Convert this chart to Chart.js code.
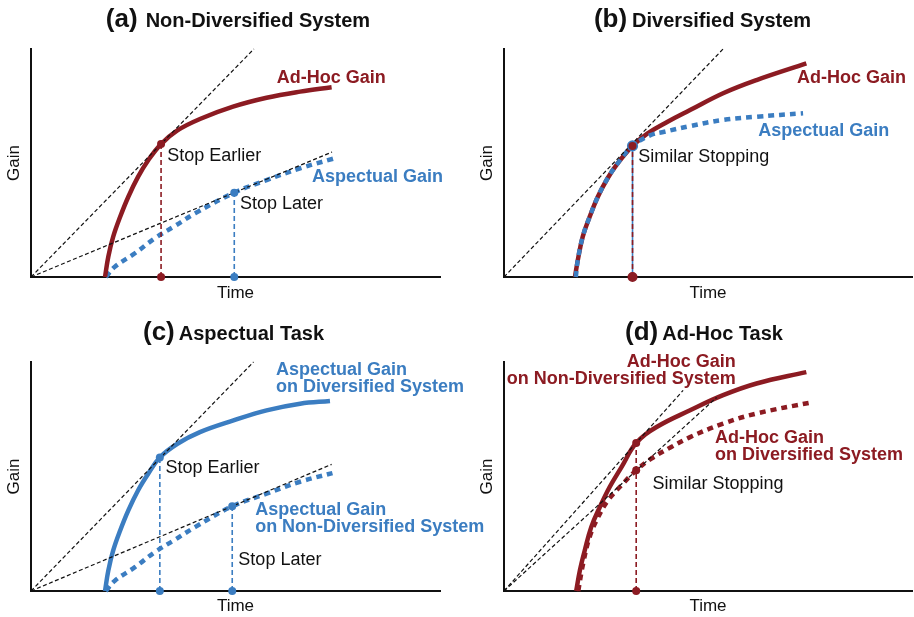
<!DOCTYPE html>
<html>
<head>
<meta charset="utf-8">
<script src="https://cdn.jsdelivr.net/npm/chart.js@4.4.1/dist/chart.umd.min.js"></script>
<style>
    body { margin: 0; background: #fff; }
    #wrap { position: relative; width: 914px; height: 617px; }
    #wrap canvas { position: absolute; left: 0; top: 0; }
</style>
</head>
<body>
<div id="wrap">
    <canvas id="panelA" width="914" height="617"></canvas>
    <canvas id="panelB" width="914" height="617"></canvas>
    <canvas id="panelC" width="914" height="617"></canvas>
    <canvas id="panelD" width="914" height="617"></canvas>
</div>
<script>
// (a) Non-Diversified System
const aAdhocTime = [18.1, 18.9, 20.1, 21.8, 23.8, 26.2, 28.7, 31.8, 35.8, 41.3, 49.4, 57.6, 65.8, 73.5];
const aAdhocGain = [0, 8.9, 17.7, 26.4, 35.2, 44.0, 51.3, 58.3, 64.3, 69.3, 74.7, 78.6, 81.3, 83.2];
const aAspTime = [18.3, 20.5, 25.4, 30.3, 35.2, 40.1, 49.7, 57.6, 65.8, 73.9];
const aAspGain = [0, 4.5, 10.4, 17.0, 22.4, 27.9, 37.0, 42.5, 47.7, 51.9];
const aTangents = [[54.5, 100], [73.6, 54.8]];
const aStops = [[31.8, 58.3], [49.7, 37.0]];

// (b) Diversified System
const bAdhocTime = [17.4, 18.1, 19.3, 21.0, 23.0, 25.4, 27.9, 31.5, 35.2, 40.1, 45.6, 53.7, 61.9, 74.1];
const bAdhocGain = [0, 7.5, 17.7, 26.4, 35.2, 43.3, 49.9, 57.5, 63.0, 68.1, 73.2, 80.6, 86.4, 93.7];
const bAspTime = [17.6, 18.1, 19.3, 21.0, 23.0, 25.4, 27.9, 31.5, 36.0, 39.3, 45.6, 53.7, 61.9, 73.3];
const bAspGain = [0, 7.5, 17.7, 26.4, 35.2, 43.3, 49.9, 57.5, 62.3, 63.7, 66.2, 68.9, 70.3, 71.8];
const bTangents = [[53.7, 100]];
const bStop = [31.5, 57.5];

// (c) Aspectual Task
const cDivTime = [18.1, 18.9, 20.1, 21.8, 23.8, 26.2, 28.7, 31.5, 35.8, 41.3, 49.5, 57.6, 65.8, 73.1];
const cDivGain = [0, 8.9, 17.7, 26.4, 35.2, 44.0, 51.3, 58.3, 64.3, 69.4, 74.5, 78.9, 81.8, 83.0];
const cNonDivTime = [18.3, 20.5, 25.4, 30.3, 35.2, 40.1, 49.2, 57.6, 65.8, 73.7];
const cNonDivGain = [0, 4.5, 10.4, 17.0, 22.4, 27.9, 37.0, 42.5, 47.7, 51.5];
const cTangents = [[54.4, 100], [73.5, 55.3]];
const cStops = [[31.5, 58.3], [49.2, 37.0]];

// (d) Ad-Hoc Task
const dNonDivTime = [17.7, 18.6, 19.8, 21.4, 23.5, 25.9, 28.8, 32.4, 37.4, 45.6, 53.7, 61.9, 74.1];
const dNonDivGain = [0, 9.0, 17.8, 28.0, 36.7, 45.4, 54.1, 64.6, 71.6, 78.9, 85.5, 90.6, 95.6];
const dDivTime = [18.2, 19.4, 21.0, 23.1, 25.5, 28.8, 32.4, 36.1, 41.0, 45.6, 53.7, 61.9, 75.7];
const dDivGain = [0, 12.0, 23.6, 32.3, 39.6, 46.2, 52.7, 57.8, 62.9, 67.2, 73.1, 77.5, 82.5];
const dTangents = [[43.9, 87.6], [52.1, 84.5]];
const dStopTime = 32.4;
const dStopGains = [64.6, 52.7];

const RED = '#8c1b22';
const BLUE = '#3b7dc1';
const INK = '#111';
const FONT = '"Liberation Sans", Arial, Helvetica, sans-serif';

function pts(xs, ys) {
    return xs.map((x, i) => ({ x: x, y: ys[i] }));
}

function curve(xs, ys, color, dotted, order) {
    return {
        data: pts(xs, ys),
        borderColor: color,
        borderWidth: 4.5,
        borderDash: dotted ? [6, 5] : [],
        borderCapStyle: 'butt',
        pointRadius: 0,
        tension: 0.4,
        clip: false,
        order: order
    };
}

function tangent(t) {
    return {
        data: [{ x: 0, y: 0 }, { x: t[0], y: t[1] }],
        borderColor: INK,
        borderWidth: 1.2,
        borderDash: [4, 2.5],
        pointRadius: 0,
        clip: false,
        order: 2
    };
}

function drop(x, y, color) {
    return {
        data: [{ x: x, y: 0 }, { x: x, y: y }],
        borderColor: color,
        borderWidth: 1.6,
        borderDash: [5, 3],
        pointRadius: 4,
        pointBackgroundColor: color,
        pointBorderWidth: 0,
        clip: false,
        order: 1
    };
}

function notesPlugin(items) {
    return {
        id: 'notes',
        afterDatasetsDraw(chart) {
            const { ctx, scales: { x, y } } = chart;
            ctx.save();
            items.forEach((n) => {
                ctx.font = (n.bold ? 'bold ' : '') + '18px ' + FONT;
                ctx.fillStyle = n.color || INK;
                ctx.textAlign = n.align || 'left';
                ctx.textBaseline = 'middle';
                [].concat(n.text).forEach((line, i) => {
                    ctx.fillText(line, x.getPixelForValue(n.x), y.getPixelForValue(n.y) + i * 17);
                });
            });
            ctx.restore();
        }
    };
}

function titlePlugin(tag, text, cx, baseline, gap) {
    return {
        id: 'panelTitle',
        afterDraw(chart) {
            const ctx = chart.ctx;
            ctx.save();
            ctx.fillStyle = INK;
            ctx.textAlign = 'left';
            ctx.textBaseline = 'alphabetic';
            const tagFont = 'bold 26px ' + FONT;
            const textFont = 'bold 20px ' + FONT;
            ctx.font = tagFont;
            const w1 = ctx.measureText(tag).width;
            ctx.font = textFont;
            const w2 = ctx.measureText(text).width;
            const x0 = cx - (w1 + gap + w2) / 2;
            ctx.font = tagFont;
            ctx.fillText(tag, x0, baseline);
            ctx.font = textFont;
            ctx.fillText(text, x0 + w1 + gap, baseline);
            ctx.restore();
        }
    };
}

// box: plot area edges in page pixels, centre of the "Gain" and "Time" titles
function panel(id, box, datasets, notes, title) {
    const axisTitle = (text) => ({
        display: true,
        text: text,
        color: INK,
        padding: 0,
        font: { family: FONT, size: 17, lineHeight: 1.2 }
    });
    return new Chart(document.getElementById(id), {
        type: 'line',
        data: { datasets: datasets },
        options: {
            responsive: false,
            animation: false,
            devicePixelRatio: 1,
            layout: {
                autoPadding: false,
                padding: {
                    left: box.gainX - 10.2,
                    top: box.top,
                    right: 914 - box.right,
                    bottom: 617 - (box.timeY + 10.2)
                }
            },
            plugins: {
                legend: { display: false },
                tooltip: { enabled: false }
            },
            scales: {
                x: {
                    type: 'linear', min: 0, max: 100,
                    ticks: { display: false },
                    grid: { display: false, drawTicks: false },
                    border: { color: INK, width: 2 },
                    title: axisTitle('Time'),
                    afterFit: (s) => { s.height = box.timeY + 10.2 - box.bottom; }
                },
                y: {
                    type: 'linear', min: 0, max: 100,
                    ticks: { display: false },
                    grid: { display: false, drawTicks: false },
                    border: { color: INK, width: 2 },
                    title: axisTitle('Gain'),
                    afterFit: (s) => { s.width = box.left - (box.gainX - 10.2); }
                }
            }
        },
        plugins: [notesPlugin(notes), title]
    });
}

panel('panelA',
    { left: 31, right: 440, top: 49, bottom: 277, gainX: 14.5, timeY: 293.3 },
    [
        drop(aStops[0][0], aStops[0][1], RED),
        drop(aStops[1][0], aStops[1][1], BLUE),
        tangent(aTangents[0]),
        tangent(aTangents[1]),
        curve(aAdhocTime, aAdhocGain, RED, false, 3),
        curve(aAspTime, aAspGain, BLUE, true, 4)
    ],
    [
        { text: 'Ad-Hoc Gain', x: 60.1, y: 87.3, color: RED, bold: true },
        { text: 'Stop Earlier', x: 33.3, y: 53.1 },
        { text: 'Aspectual Gain', x: 68.7, y: 43.9, color: BLUE, bold: true },
        { text: 'Stop Later', x: 51.1, y: 32.0 }
    ],
    titlePlugin('(a)', 'Non-Diversified System', 238, 27, 8)
);

panel('panelB',
    { left: 504, right: 912, top: 49, bottom: 277, gainX: 487, timeY: 293.3 },
    [
        drop(bStop[0], bStop[1], RED),
        {
            data: [{ x: bStop[0], y: 0 }, { x: bStop[0], y: bStop[1] }],
            borderColor: BLUE,
            borderWidth: 1.6,
            pointRadius: [4.2, 4.8],
            pointBackgroundColor: BLUE,
            pointBorderColor: [RED, BLUE],
            pointBorderWidth: 1.6,
            clip: false,
            order: 1.5
        },
        tangent(bTangents[0]),
        curve(bAspTime, bAspGain, BLUE, true, 3),
        curve(bAdhocTime, bAdhocGain, RED, false, 4)
    ],
    [
        { text: 'Ad-Hoc Gain', x: 71.8, y: 87.3, color: RED, bold: true },
        { text: 'Aspectual Gain', x: 62.3, y: 64.2, color: BLUE, bold: true },
        { text: 'Similar Stopping', x: 32.9, y: 52.4 }
    ],
    titlePlugin('(b)', 'Diversified System', 702.5, 27, 5)
);

panel('panelC',
    { left: 31, right: 440, top: 362, bottom: 591, gainX: 14.5, timeY: 606 },
    [
        drop(cStops[0][0], cStops[0][1], BLUE),
        drop(cStops[1][0], cStops[1][1], BLUE),
        tangent(cTangents[0]),
        tangent(cTangents[1]),
        curve(cDivTime, cDivGain, BLUE, false, 3),
        curve(cNonDivTime, cNonDivGain, BLUE, true, 4)
    ],
    [
        { text: ['Aspectual Gain', 'on Diversified System'], x: 59.9, y: 96.4, color: BLUE, bold: true },
        { text: ['Aspectual Gain', 'on Non-Diversified System'], x: 54.8, y: 35.2, color: BLUE, bold: true },
        { text: 'Stop Earlier', x: 32.9, y: 53.7 },
        { text: 'Stop Later', x: 50.7, y: 13.4 }
    ],
    titlePlugin('(c)', 'Aspectual Task', 233.5, 340, 4)
);

panel('panelD',
    { left: 504, right: 912, top: 362, bottom: 591, gainX: 487, timeY: 606 },
    [
        drop(dStopTime, dStopGains[0], RED),
        {
            data: [{ x: dStopTime, y: dStopGains[1] }],
            pointRadius: 4,
            pointBackgroundColor: RED,
            pointBorderWidth: 0,
            showLine: false,
            clip: false,
            order: 1
        },
        tangent(dTangents[0]),
        tangent(dTangents[1]),
        curve(dNonDivTime, dNonDivGain, RED, false, 3),
        curve(dDivTime, dDivGain, RED, true, 4)
    ],
    [
        { text: ['Ad-Hoc Gain', 'on Non-Diversified System'], x: 56.8, y: 100, color: RED, bold: true, align: 'right' },
        { text: ['Ad-Hoc Gain', 'on Diversified System'], x: 51.7, y: 66.6, color: RED, bold: true },
        { text: 'Similar Stopping', x: 36.4, y: 46.9 }
    ],
    titlePlugin('(d)', 'Ad-Hoc Task', 704, 340, 4)
);
</script>
</body>
</html>
